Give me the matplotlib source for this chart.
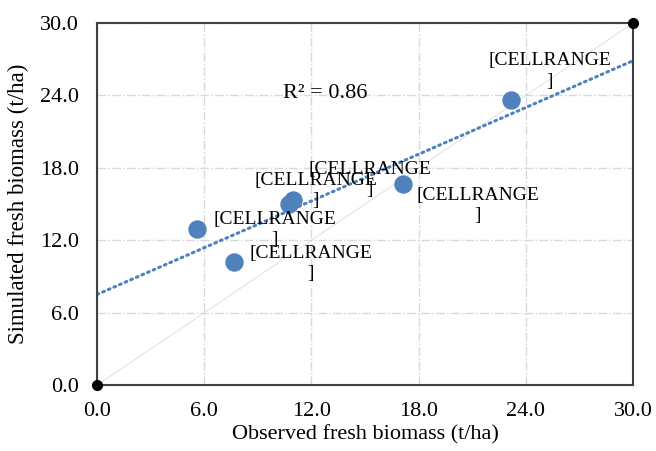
import matplotlib.pyplot as plt
import numpy as np

plt.rcParams['font.family'] = ['Liberation Serif', 'DejaVu Serif']

observed = [5.6, 7.67, 10.74, 10.97, 17.1, 23.17]
simulated = [12.9, 10.2, 15.0, 15.3, 16.65, 23.6]
labels = ['[CELLRANGE\n]'] * 6
# label offsets in points (dx, dy) relative to each point
offsets = [(56, 0), (55, -1), (19.5, 9.7), (55, 15), (54, -15.5), (28, 21)]
ticks = [0.0, 6.0, 12.0, 18.0, 24.0, 30.0]
r2_text = 'R² = 0.86'

fig = plt.figure(figsize=(6.56, 4.51), dpi=100)
ax = fig.add_axes([0.148, 0.146, 0.817, 0.803])

ax.set_xlim(0, 30)
ax.set_ylim(0, 30)

# 1:1 line
ax.plot([0, 30], [0, 30], color='#D4D4D4', linewidth=0.5, zorder=1)

# linear trendline
slope, intercept = np.polyfit(observed, simulated, 1)
xx = np.array([0, 30])
ax.plot(xx, slope * xx + intercept, color='#4F81BD', linewidth=2.2,
        linestyle=(0, (0.6, 1.4)), dash_capstyle='round', zorder=2)

ax.scatter(observed, simulated, s=150, color='#4F81BD', zorder=3)

for x, y, lab, (dx, dy) in zip(observed, simulated, labels, offsets):
    ax.annotate(lab, (x, y), xytext=(dx, dy), textcoords='offset points',
                ha='center', va='center', fontsize=14, linespacing=1.25, zorder=4)

ax.text(12.76, 24.2, r2_text, ha='center', va='center', fontsize=16)

# corner points
ax.plot([0, 30], [0, 30], 'o', color='black', markersize=7, clip_on=False, zorder=5)

ax.set_xticks(ticks)
ax.set_yticks(ticks)
ax.set_xticklabels(['%.1f' % t for t in ticks])
ax.set_yticklabels(['%.1f' % t for t in ticks])
ax.tick_params(length=0, labelsize=16)
ax.tick_params(axis='x', pad=12)
ax.tick_params(axis='y', pad=13)
ax.grid(True, color='#D9D9D9', linestyle='-.', linewidth=1)
ax.set_axisbelow(True)
for sp in ax.spines.values():
    sp.set_color('#404040')
    sp.set_linewidth(1.5)

ax.set_xlabel('Observed fresh biomass (t/ha)', fontsize=16, labelpad=3)
ax.set_ylabel('Simulated fresh biomass (t/ha)', fontsize=16.5, labelpad=8)

plt.savefig('out.png', dpi=100)
